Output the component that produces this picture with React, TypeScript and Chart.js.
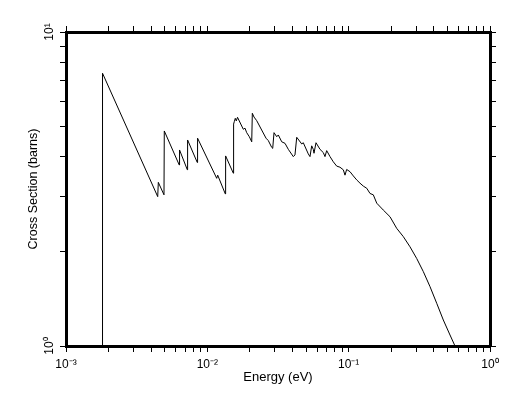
import React, { useEffect, useRef } from "react";
import { Chart, registerables } from "chart.js";

Chart.register(...registerables);

const energies = [
  1.813e-3, 1.813e-3, 4.455e-3, 4.5e-3, 4.935e-3, 4.96e-3, 6.33e-3, 6.36e-3, 7.22e-3, 7.25e-3,
  8.49e-3, 8.53e-3, 1.165e-2, 1.184e-2, 1.34e-2, 1.347e-2, 1.527e-2, 1.534e-2, 1.551e-2, 1.577e-2,
  1.603e-2, 1.635e-2, 1.797e-2, 1.847e-2, 1.899e-2, 1.982e-2, 2.061e-2, 2.081e-2, 2.139e-2, 2.235e-2,
  2.602e-2, 2.7e-2, 2.855e-2, 2.901e-2, 2.963e-2, 3.097e-2, 3.178e-2, 3.36e-2, 3.545e-2, 3.741e-2,
  4.058e-2, 4.17e-2, 4.29e-2, 4.655e-2, 4.775e-2, 5.18e-2, 5.325e-2, 5.475e-2, 5.62e-2, 5.685e-2,
  5.873e-2, 6.27e-2, 6.616e-2, 6.8e-2, 6.99e-2, 7.38e-2, 7.785e-2, 8.23e-2, 8.68e-2, 9.165e-2,
  9.42e-2, 9.68e-2, 0.1022, 0.1079, 0.114, 0.1203, 0.127, 0.1342, 0.1416, 0.1494,
  0.158, 0.1758, 0.1961, 0.2187, 0.2436, 0.2716, 0.3029, 0.3375, 0.3764, 0.4197,
  0.4674, 0.5212, 0.5968,
];

const crossSections = [
  0.5, 7.39, 2.99, 3.32, 3.03, 4.84, 3.77, 4.21, 3.64, 4.53,
  3.84, 4.59, 3.42, 3.5, 3.05, 4.03, 3.55, 5.09, 5.18, 5.31,
  5.21, 5.35, 4.9, 4.94, 4.78, 4.64, 4.47, 5.51, 5.36, 5.22,
  4.59, 4.51, 4.29, 4.26, 4.78, 4.64, 4.7, 4.47, 4.42, 4.23,
  4.01, 4.06, 4.62, 4.4, 4.44, 4.09, 4.01, 4.34, 4.23, 4.11,
  4.44, 4.23, 4.13, 4.01, 4.19, 4.01, 3.86, 3.74, 3.71, 3.64,
  3.5, 3.65, 3.59, 3.48, 3.38, 3.3, 3.23, 3.18, 3.06, 3.03,
  2.85, 2.71, 2.58, 2.37, 2.23, 2.07, 1.9, 1.725, 1.545, 1.368,
  1.21, 1.084, 0.948,
];

const xTickValues = [
  1e-3, 2e-3, 3e-3, 4e-3, 5e-3, 6e-3, 7e-3, 8e-3, 9e-3,
  1e-2, 2e-2, 3e-2, 4e-2, 5e-2, 6e-2, 7e-2, 8e-2, 9e-2,
  1e-1, 2e-1, 3e-1, 4e-1, 5e-1, 6e-1, 7e-1, 8e-1, 9e-1, 1,
];
const xMajorLabels: Record<string, string> = {
  "0.001": "10⁻³",
  "0.01": "10⁻²",
  "0.1": "10⁻¹",
  "1": "10⁰",
};

const yTickValues = [1, 2, 3, 4, 5, 6, 7, 8, 9, 10];
const yMajorLabels: Record<string, string> = {
  "1": "10⁰",
  "10": "10¹",
};

const xTitle = "Energy (eV)";
const yTitle = "Cross Section (barns)";

const FONT = "'Liberation Sans', Arial, Helvetica, sans-serif";

export default function App() {
  const canvasRef = useRef<HTMLCanvasElement | null>(null);

  useEffect(() => {
    const canvas = canvasRef.current;
    if (!canvas) return;

    const points = energies.map((e, i) => ({ x: e, y: crossSections[i] }));

    const grid = {
      display: true,
      drawOnChartArea: false,
      drawTicks: true,
      tickLength: 6,
      tickWidth: 1,
      tickColor: "#000",
      color: "#000",
      lineWidth: 1,
    };
    const border = { display: true, width: 3, color: "#000" };

    const setTicks = (vals: number[]) => (scale: any) => {
      scale.ticks = vals.map((v) => ({ value: v }));
    };

    const chart = new Chart(canvas, {
      type: "line",
      data: {
        datasets: [
          {
            data: points,
            borderColor: "#000",
            borderWidth: 1,
            pointRadius: 0,
            tension: 0,
            fill: false,
          },
        ],
      },
      options: {
        animation: false,
        responsive: false,
        maintainAspectRatio: false,
        layout: { padding: 0 },
        plugins: {
          legend: { display: false },
          tooltip: { enabled: false },
        },
        scales: {
          x: {
            type: "logarithmic",
            position: "bottom",
            min: 1e-3,
            max: 1,
            grid,
            border,
            afterBuildTicks: setTicks(xTickValues),
            afterFit: (scale: any) => {
              scale.height = 47;
            },
            ticks: {
              autoSkip: false,
              maxRotation: 0,
              minRotation: 0,
              padding: 5,
              color: "#000",
              font: { family: FONT, size: 12 },
              callback: (v: any) => xMajorLabels[String(Number(v))] ?? "",
            },
            title: {
              display: true,
              text: xTitle,
              color: "#000",
              font: { family: FONT, size: 13 },
              padding: { top: 0, bottom: 8 },
            },
          },
          x2: {
            type: "logarithmic",
            position: "top",
            min: 1e-3,
            max: 1,
            grid,
            border,
            afterBuildTicks: setTicks(xTickValues),
            afterFit: (scale: any) => {
              scale.height = 32;
            },
            ticks: {
              autoSkip: false,
              maxRotation: 0,
              minRotation: 0,
              callback: () => "",
            },
          },
          y: {
            type: "logarithmic",
            position: "left",
            min: 1,
            max: 10,
            grid,
            border,
            afterBuildTicks: setTicks(yTickValues),
            afterFit: (scale: any) => {
              scale.width = 66;
            },
            ticks: {
              autoSkip: false,
              minRotation: 90,
              maxRotation: 90,
              crossAlign: "center",
              padding: 2,
              color: "#000",
              font: { family: FONT, size: 12 },
              callback: (v: any) => yMajorLabels[String(Number(v))] ?? "",
            },
            title: {
              display: true,
              text: yTitle,
              color: "#000",
              font: { family: FONT, size: 12.5 },
              padding: { top: 26, bottom: 0 },
            },
          },
          y2: {
            type: "logarithmic",
            position: "right",
            min: 1,
            max: 10,
            grid,
            border,
            afterBuildTicks: setTicks(yTickValues),
            afterFit: (scale: any) => {
              scale.width = 22;
            },
            ticks: {
              autoSkip: false,
              callback: () => "",
            },
          },
        },
      } as any,
    });

    return () => {
      chart.destroy();
    };
  }, []);

  return (
    <div
      style={{
        position: "fixed",
        left: 0,
        top: 0,
        width: 512,
        height: 393,
        background: "#fff",
      }}
    >
      <canvas
        ref={canvasRef}
        width={512}
        height={393}
        style={{ display: "block", width: 512, height: 393 }}
      />
    </div>
  );
}
